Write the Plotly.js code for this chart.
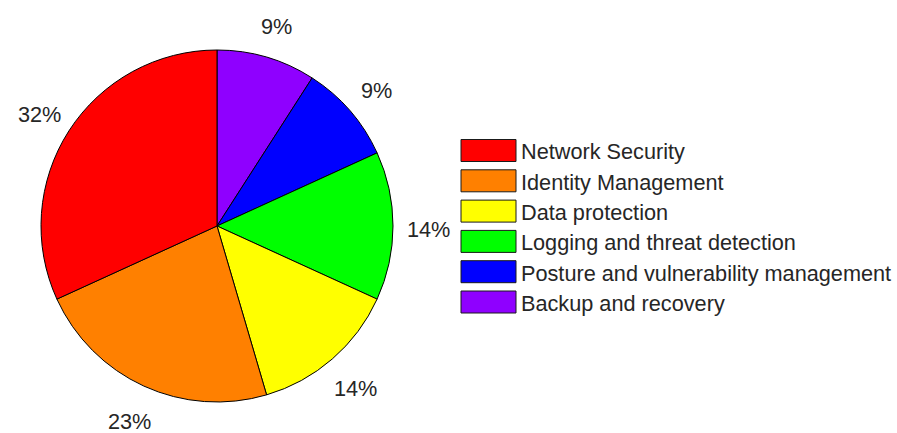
<!DOCTYPE html>
<html>
<head>
<meta charset="utf-8">
<script src="https://cdn.plot.ly/plotly-3.0.1.min.js"></script>
<style>
  html, body { margin: 0; padding: 0; background: #fff; }
  #chart { width: 897px; height: 433px; }
</style>
</head>
<body>
<div id="chart"></div>
<script>
// ---- data ----
const categories = [
  "Network Security",
  "Identity Management",
  "Data protection",
  "Logging and threat detection",
  "Posture and vulnerability management",
  "Backup and recovery"
];
const values = [7, 5, 3, 3, 2, 2];
const colors = ["#FF0000", "#FF8000", "#FFFF00", "#00FF00", "#0000FF", "#8F00FF"];

// ---- layout constants ----
const W = 897, H = 433;
const CX = 217, CY = 226, R = 176;      // pie centre / radius in pixels
const FONT = "Liberation Sans, Arial, Helvetica, sans-serif";
const FSIZE = 21.7;
const TEXTCOLOR = "#262626";

// Slices run counter-clockwise from 12 o'clock (MATLAB style).
// Plotly draws clockwise from 12 o'clock, so feed the series in reverse order.
const rev = a => a.slice().reverse();

const trace = {
  type: "pie",
  labels: rev(categories),
  values: rev(values),
  sort: false,
  direction: "clockwise",
  rotation: 0,
  marker: { colors: rev(colors), line: { color: "#000000", width: 1 } },
  textinfo: "none",
  hoverinfo: "label+percent",
  showlegend: false,
  domain: { x: [(CX - R) / W, (CX + R) / W], y: [(H - CY - R) / H, (H - CY + R) / H] }
};

const shapes = [];
const annotations = [];

// percentage labels at 1.2 x radius on each slice's mid-angle (MATLAB pie placement)
const total = values.reduce((a, b) => a + b, 0);
let cum = 0;
values.forEach((v, i) => {
  const midFrac = (cum + v / 2) / total;
  cum += v;
  const th = (90 + 360 * midFrac) * Math.PI / 180;
  const px = CX + 1.2 * R * Math.cos(th);
  const py = CY - 1.2 * R * Math.sin(th) + 3;
  annotations.push({
    xref: "paper", yref: "paper",
    x: px / W, y: 1 - py / H,
    xanchor: "center", yanchor: "middle",
    text: Math.round(100 * v / total) + "%",
    showarrow: false,
    font: { family: FONT, size: FSIZE, color: TEXTCOLOR }
  });
});

// custom MATLAB-style legend (large swatches), built from the category arrays
const legX0 = 461, legX1 = 516, legTextX = 519;
const rowTop = 150.5, rowStep = 30.3, swH = 22;
categories.forEach((name, i) => {
  const cy = rowTop + i * rowStep;
  shapes.push({
    type: "rect", xref: "paper", yref: "paper",
    x0: legX0 / W, x1: legX1 / W,
    y0: 1 - (cy - swH / 2) / H, y1: 1 - (cy + swH / 2) / H,
    fillcolor: colors[i], line: { color: "#1a1a1a", width: 1 }
  });
  annotations.push({
    xref: "paper", yref: "paper",
    x: legTextX / W, y: 1 - (cy + 1.5) / H,
    xanchor: "left", yanchor: "middle",
    text: name, showarrow: false,
    font: { family: FONT, size: FSIZE, color: TEXTCOLOR }
  });
});

const layout = {
  width: W, height: H,
  margin: { l: 0, r: 0, t: 0, b: 0 },
  paper_bgcolor: "#ffffff",
  plot_bgcolor: "#ffffff",
  showlegend: false,
  shapes: shapes,
  annotations: annotations,
  font: { family: FONT, color: TEXTCOLOR }
};

Plotly.newPlot("chart", [trace], layout, { displayModeBar: false, staticPlot: true });
</script>
</body>
</html>
